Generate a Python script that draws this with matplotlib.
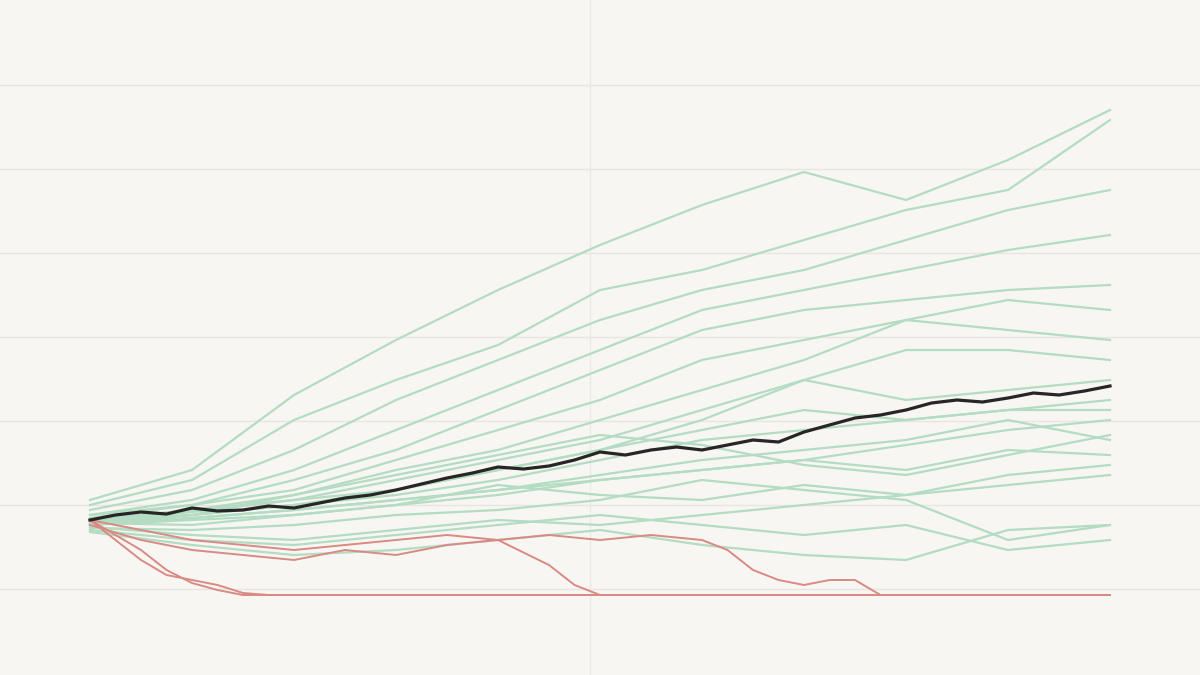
import matplotlib
matplotlib.use("Agg")
import matplotlib.pyplot as plt
import numpy as np

# Bankroll simulation paths (starting bankroll = 75 units, 0 = ruin)
STEP_COARSE = 20
green_paths = [
    [95, 125, 200, 255, 305, 350, 390, 423, 395, 435, 485],
    [90, 115, 175, 215, 250, 305, 325, 355, 385, 405, 475],
    [85, 105, 145, 195, 235, 275, 305, 325, 355, 385, 405],
    [80, 95, 125, 165, 205, 245, 285, 305, 325, 345, 360],
    [80, 90, 115, 145, 185, 225, 265, 285, 295, 305, 310],
    [77, 90, 105, 135, 165, 195, 235, 255, 275, 295, 285],
    [75, 85, 100, 125, 145, 175, 205, 235, 275, 265, 255],
    [75, 85, 95, 115, 135, 155, 185, 215, 245, 245, 235],
    [73, 83, 95, 105, 125, 145, 175, 215, 195, 205, 215],
    [75, 80, 90, 105, 125, 145, 165, 185, 175, 185, 195],
    [73, 80, 90, 100, 115, 135, 155, 165, 175, 185, 185],
    [70, 77, 85, 95, 105, 120, 135, 145, 155, 175, 155],
    [70, 75, 80, 90, 100, 115, 125, 135, 125, 145, 140],
    [72, 77, 85, 95, 105, 115, 125, 135, 150, 165, 175],
    [67, 65, 70, 80, 85, 95, 115, 105, 95, 55, 70],
    [65, 55, 50, 60, 70, 80, 70, 60, 70, 45, 55],
    [63, 50, 40, 45, 55, 65, 50, 40, 35, 65, 70],
    [68, 60, 55, 65, 75, 70, 80, 90, 100, 110, 120],
    [70, 80, 100, 120, 140, 160, 150, 130, 120, 140, 160],
    [72, 70, 80, 90, 110, 100, 95, 110, 100, 120, 130],
]

# Ruined paths: (step, value) until they hit zero
red_paths = [
    ([0, 5, 10, 15, 20, 25, 30], [75, 60, 45, 25, 12, 5, 0]),
    ([0, 5, 10, 15, 20, 25, 30, 35], [75, 55, 35, 20, 15, 10, 2, 0]),
    ([0, 10, 20, 30, 40, 50, 60, 70, 80, 90, 95, 100],
     [70, 55, 45, 40, 35, 45, 40, 50, 55, 30, 10, 0]),
    ([0, 10, 20, 30, 40, 50, 60, 70, 80, 90, 100, 110, 120, 125, 130, 135, 140, 145, 150, 155],
     [75, 65, 55, 50, 45, 50, 55, 60, 55, 60, 55, 60, 55, 45, 25, 15, 10, 15, 15, 0]),
]

# Median path, every 5 steps
median_path = [75, 80, 83, 81, 87, 84, 85, 89, 87, 92, 97, 100, 105, 111, 117, 122, 128, 126,
               129, 135, 143, 140, 145, 148, 145, 150, 155, 153, 163, 170, 177, 180, 185, 192,
               195, 193, 197, 202, 200, 204, 209]

N_STEPS = 200
grid_levels = [6, 90, 174, 258, 342, 426, 510]
grid_x = [98]

BG = "#f8f6f2"
fig = plt.figure(figsize=(12, 6.75), dpi=100, facecolor=BG)
ax = fig.add_axes([0, 0, 1, 1], facecolor=BG)

for y in grid_levels:
    ax.axhline(y, color="#e9e6e1", lw=1, zorder=0)
for x in grid_x:
    ax.axvline(x, color="#eceae5", lw=1, zorder=0)

for path in green_paths:
    xs = np.arange(len(path)) * STEP_COARSE
    ax.plot(xs, path, color="#b3dcc3", lw=1.6, zorder=2)

for xs, ys in red_paths:
    xs = list(xs) + [N_STEPS]
    ys = list(ys) + [0]
    ax.plot(xs, ys, color="#d98a84", lw=1.4, zorder=3)

xs = np.arange(len(median_path)) * 5
ax.plot(xs, median_path, color="#262626", lw=2.3, zorder=4)

# 5.1 px per step, first step at 90 px
ax.set_xlim(-90 / 5.1, (1200 - 90) / 5.1)
ax.set_ylim(-80, 595)
ax.axis("off")

fig.savefig("out.png", dpi=100, facecolor=BG)
